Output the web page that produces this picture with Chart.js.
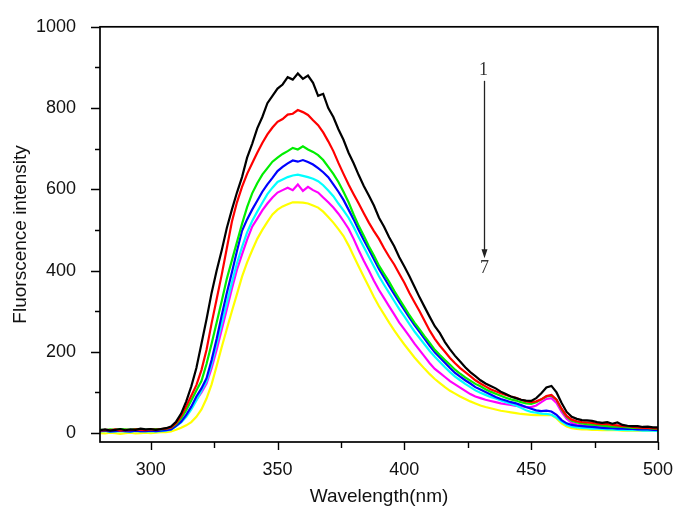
<!DOCTYPE html>
<html>
<head>
<meta charset="utf-8">
<script src="https://cdn.jsdelivr.net/npm/chart.js@4.4.1/dist/chart.umd.min.js"></script>
<style>
  html, body { margin: 0; padding: 0; background: #fff; }
</style>
</head>
<body>
<canvas id="chart" width="682" height="510"></canvas>
<script>
// Wavelength grid (nm), 2 nm steps
const wavelength = [
  280, 282, 284, 286, 288, 290, 292, 294, 296, 298,
  300, 302, 304, 306, 308, 310, 312, 314, 316, 318,
  320, 322, 324, 326, 328, 330, 332, 334, 336, 338,
  340, 342, 344, 346, 348, 350, 352, 354, 356, 358,
  360, 362, 364, 366, 368, 370, 372, 374, 376, 378,
  380, 382, 384, 386, 388, 390, 392, 394, 396, 398,
  400, 402, 404, 406, 408, 410, 412, 414, 416, 418,
  420, 422, 424, 426, 428, 430, 432, 434, 436, 438,
  440, 442, 444, 446, 448, 450, 452, 454, 456, 458,
  460, 462, 464, 466, 468, 470, 472, 474, 476, 478,
  480, 482, 484, 486, 488, 490, 492, 494, 496, 498,
  500
];

// Fluorescence intensity, curves 1..7
const curve1 = [
  7, 9, 6, 8, 10, 7, 9, 8, 11, 9,
  10, 8, 10, 12, 16, 28, 48, 78, 115, 160,
  220, 280, 345, 400, 450, 505, 550, 592, 630, 678,
  712, 750, 778, 812, 830, 848, 858, 876, 870, 885,
  872, 880, 862, 830, 835, 800, 778, 748, 722, 690,
  664, 635, 608, 585, 560, 530, 508, 482, 460, 433,
  410, 386, 360, 334, 310, 286, 263, 246, 224, 206,
  190, 176, 162, 150, 140, 130, 122, 116, 110, 102,
  96, 90, 86, 82, 80, 79, 86, 98, 112, 116,
  100, 74, 52, 40, 35, 32, 31, 30, 27, 25,
  27, 23, 26, 20, 18, 17, 17, 15, 16, 14,
  14
];
const curve2 = [
  6, 8, 7, 9, 6, 8, 7, 9, 8, 7,
  9, 8, 10, 11, 14, 24, 42, 66, 92, 118,
  155, 205, 270, 330, 390, 455, 520, 568, 606, 638,
  664, 690, 714, 735, 752, 766, 773, 784, 786, 795,
  790, 783, 770, 758, 740, 718, 694, 665, 638, 612,
  588, 565, 541, 518, 497, 478, 455, 434, 415, 392,
  370, 345, 322, 300, 276, 252, 232, 215, 200, 185,
  172, 160, 150, 140, 130, 122, 115, 108, 103, 98,
  94, 90, 87, 82, 78, 76, 78, 83, 91, 94,
  82, 60, 42, 33, 29, 27, 26, 25, 23, 22,
  22, 20, 19, 17, 17, 15, 14, 13, 13, 12,
  11
];
const curve3 = [
  8, 7, 9, 8, 10, 9, 8, 10, 9, 8,
  9, 10, 9, 11, 13, 22, 36, 56, 80, 105,
  128, 170, 220, 272, 325, 380, 425, 470, 515, 556,
  590, 615, 636, 652, 668, 678, 687, 694, 702, 698,
  706, 698, 692, 684, 672, 655, 638, 618, 594, 568,
  538, 510, 486, 460, 437, 412, 392, 372, 350, 330,
  310, 290, 272, 255, 238, 222, 205, 192, 180, 168,
  156, 146, 137, 129, 121, 115, 108, 102, 97, 92,
  87, 83, 80, 76, 73, 72, 76, 83, 90, 92,
  82, 58, 40, 30, 26, 24, 22, 21, 20, 18,
  17, 16, 16, 15, 14, 13, 13, 12, 12, 11,
  10
];
const curve4 = [
  5, 6, 4, 5, 6, 5, 4, 6, 5, 5,
  6, 5, 6, 7, 9, 18, 28, 45, 65, 90,
  110, 135, 180, 232, 290, 345, 395, 448, 498, 526,
  550, 572, 594, 612, 628, 645, 655, 664, 671, 668,
  672, 667, 661, 652, 642, 630, 612, 594, 574, 550,
  526, 500, 475, 452, 428, 404, 383, 362, 342, 322,
  303, 284, 266, 249, 232, 215, 199, 186, 173, 160,
  148, 139, 130, 122, 113, 107, 101, 95, 89, 84,
  80, 76, 73, 69, 64, 60, 56, 54, 55, 53,
  45, 32, 24, 20, 18, 17, 16, 15, 14, 13,
  12, 12, 11, 11, 10, 10, 9, 9, 9, 8,
  8
];
const curve5 = [
  4, 5, 3, 4, 5, 4, 3, 5, 4, 4,
  5, 4, 5, 6, 8, 17, 26, 40, 58, 80,
  104, 128, 170, 220, 270, 320, 370, 418, 458, 494,
  522, 545, 567, 588, 604, 618, 624, 630, 634, 636,
  633, 630, 626, 620, 610, 597, 583, 565, 548, 530,
  507, 482, 458, 434, 410, 386, 365, 345, 325, 305,
  287, 268, 250, 234, 218, 202, 188, 175, 162, 150,
  139, 130, 121, 113, 105, 99, 94, 89, 85, 80,
  76, 72, 68, 62, 56, 52, 50, 48, 47, 45,
  38, 28, 20, 16, 14, 13, 12, 11, 11, 10,
  9, 9, 8, 8, 7, 7, 7, 6, 6, 6,
  5
];
const curve6 = [
  6, 7, 5, 6, 8, 6, 7, 5, 7, 6,
  7, 6, 8, 9, 11, 20, 30, 44, 62, 82,
  100, 122, 160, 205, 255, 305, 355, 402, 440, 476,
  508, 528, 548, 565, 580, 592, 598, 604, 598, 612,
  596, 606, 598, 592, 580, 568, 555, 540, 522, 503,
  478, 450, 424, 400, 375, 352, 332, 312, 292, 272,
  255, 238, 220, 204, 188, 172, 158, 148, 138, 128,
  120, 112, 104, 96, 90, 86, 82, 79, 76, 73,
  71, 69, 67, 66, 64, 64, 68, 76, 84, 86,
  74, 52, 35, 25, 21, 19, 18, 17, 16, 15,
  14, 14, 13, 12, 12, 11, 11, 10, 10, 9,
  9
];
const curve7 = [
  0, -1, 1, 0, -2, 0, 1, -1, 0, 1,
  0, 1, 2, 2, 4, 8, 13, 19, 27, 40,
  58, 85, 120, 165, 212, 256, 300, 342, 385, 420,
  450, 478, 500, 520, 538, 550, 558, 563, 568, 568,
  567, 565, 560, 555, 545, 532, 518, 502, 485, 462,
  436, 410, 385, 360, 335, 312, 292, 272, 253, 235,
  218, 202, 186, 172, 158, 145, 133, 123, 113, 104,
  97, 90, 84, 78, 73, 68, 64, 61, 58, 55,
  53, 51, 49, 47, 46, 45, 44, 44, 45, 44,
  36, 24, 16, 12, 10, 9, 9, 8, 8, 7,
  7, 7, 7, 6, 6, 6, 6, 6, 6, 6,
  6
];

const curves = [curve1, curve2, curve3, curve4, curve5, curve6, curve7];
const curveColors = ["#000000", "#ff0000", "#00ee00", "#0000ff", "#00ffff", "#ff00ff", "#ffff00"];

const xTicks = [300, 350, 400, 450, 500];
const yTicks = [0, 200, 400, 600, 800, 1000];

// arrow annotation "1 -> 7", in data units
const arrowX = 431.6;
const arrowFrom = 867;
const arrowTo = 430;
const labelTop = { text: "1", y: 893 };
const labelBottom = { text: "7", y: 405 };

const SANS = "'Liberation Sans', Arial, sans-serif";
const SERIF = "'Liberation Serif', 'Times New Roman', serif";

// Frame, tick marks and the arrow
const frameAndArrow = {
  id: "frameAndArrow",
  afterDatasetsDraw(chart) {
    const { ctx, chartArea: a, scales: { x, y } } = chart;
    ctx.save();
    ctx.strokeStyle = "#000";
    ctx.lineWidth = 1.7;
    ctx.strokeRect(a.left, a.top, a.right - a.left, a.bottom - a.top);

    ctx.beginPath();
    x.ticks.forEach(t => {
      const px = Math.round(x.getPixelForValue(t.value)) + 0.5;
      const len = xTicks.includes(t.value) ? 8 : 6;
      ctx.moveTo(px, a.bottom);
      ctx.lineTo(px, a.bottom + len);
    });
    y.ticks.forEach(t => {
      const py = Math.round(y.getPixelForValue(t.value)) + 0.5;
      const len = yTicks.includes(t.value) ? 9 : 5;
      ctx.moveTo(a.left, py);
      ctx.lineTo(a.left - len, py);
    });
    ctx.lineWidth = 1.4;
    ctx.stroke();

    // arrow
    const ax = x.getPixelForValue(arrowX);
    const y0 = y.getPixelForValue(arrowFrom);
    const y1 = y.getPixelForValue(arrowTo);
    ctx.strokeStyle = "#222";
    ctx.fillStyle = "#222";
    ctx.lineWidth = 1.3;
    ctx.beginPath();
    ctx.moveTo(ax, y0);
    ctx.lineTo(ax, y1 - 8);
    ctx.stroke();
    ctx.beginPath();
    ctx.moveTo(ax - 3, y1 - 9);
    ctx.lineTo(ax + 3, y1 - 9);
    ctx.lineTo(ax, y1);
    ctx.closePath();
    ctx.fill();

    ctx.font = "18px " + SERIF;
    ctx.textAlign = "center";
    ctx.textBaseline = "middle";
    ctx.fillStyle = "#333";
    ctx.fillText(labelTop.text, ax - 1, y.getPixelForValue(labelTop.y));
    ctx.fillText(labelBottom.text, ax, y.getPixelForValue(labelBottom.y));
    ctx.restore();
  }
};

const ctx = document.getElementById("chart").getContext("2d");

new Chart(ctx, {
  type: "line",
  data: {
    datasets: curves.map((c, i) => ({
      label: String(i + 1),
      data: wavelength.map((w, k) => ({ x: w, y: c[k] })),
      borderColor: curveColors[i],
      borderWidth: 2.2,
      pointRadius: 0,
      tension: 0,
      fill: false,
    })),
  },
  options: {
    responsive: false,
    animation: false,
    layout: { padding: { top: 21, right: 18, left: 0, bottom: 0 } },
    plugins: {
      legend: { display: false },
      tooltip: { enabled: false },
    },
    scales: {
      x: {
        type: "linear",
        min: 280,
        max: 500,
        grid: { display: false },
        border: { display: false },
        ticks: {
          stepSize: 25,
          includeBounds: false,
          autoSkip: false,
          maxRotation: 0,
          padding: 9,
          color: "#111",
          font: { family: SANS, size: 18 },
          callback: v => (xTicks.includes(v) ? v : ""),
        },
        title: {
          display: true,
          text: "Wavelength(nm)",
          color: "#111",
          font: { family: SANS, size: 19 },
          padding: { top: 0, bottom: 2 },
        },
        afterFit: s => { s.height = 68; },
      },
      y: {
        min: -22,
        max: 1000,
        grid: { display: false },
        border: { display: false },
        ticks: {
          stepSize: 100,
          includeBounds: false,
          autoSkip: false,
          padding: 16,
          color: "#111",
          font: { family: SANS, size: 18 },
          callback: v => (yTicks.includes(v) ? v : ""),
        },
        title: {
          display: true,
          text: "Fluorscence intensity",
          color: "#111",
          font: { family: SANS, size: 19 },
          padding: { top: 9, bottom: 0 },
        },
        afterFit: s => { s.width = 100; },
      },
    },
  },
  plugins: [frameAndArrow],
});
</script>
</body>
</html>
